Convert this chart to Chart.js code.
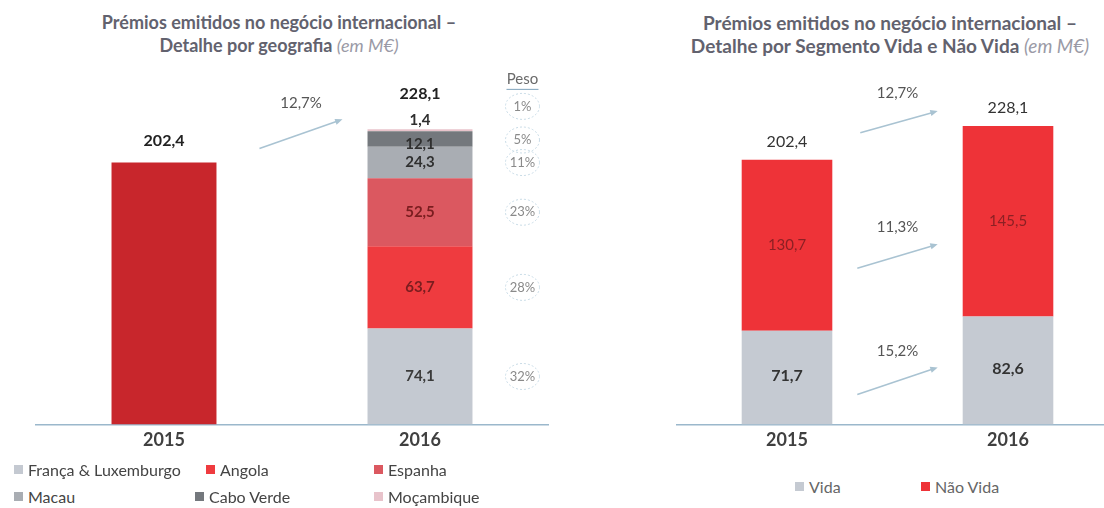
<!DOCTYPE html>
<html>
<head>
<meta charset="utf-8">
<script src="https://cdn.jsdelivr.net/npm/chart.js@4"></script>
<style>
  body { margin: 0; width: 1104px; height: 508px; overflow: hidden; background: #fff;
         font-family: Lato, "DejaVu Sans", sans-serif; position: relative; }
  .title { position: absolute; text-align: center; color: #62626e; font-weight: bold;
           font-size: 18px; line-height: 23px; white-space: nowrap; }
  .title i { font-weight: normal; color: #9a9aa6; }
  #tLeft { left: 79px; width: 400px; top: 11px; }
  #tRight { left: 660px; width: 460px; top: 11px; font-size: 19px; }
  .cv { position: absolute; top: 0; }
  #wrapLeft { left: 0; width: 560px; height: 466px; }
  #wrapRight { left: 660px; width: 470px; height: 466px; }
  .legend { position: absolute; font-size: 16px; color: #444; }
  .legend .item { position: absolute; white-space: nowrap; display: flex; align-items: center; }
  .legend .sq { width: 9px; height: 9px; margin-right: 5px; display: inline-block; }
</style>
</head>
<body>
<div class="title" id="tLeft">Prémios emitidos no negócio internacional –<br>Detalhe por geografia <i>(em M€)</i></div>
<div class="title" id="tRight">Prémios emitidos no negócio internacional –<br>Detalhe por Segmento Vida e Não Vida <i>(em M€)</i></div>
<div class="cv" id="wrapLeft"><canvas id="chartLeft"></canvas></div>
<div class="cv" id="wrapRight"><canvas id="chartRight"></canvas></div>
<div class="legend" id="legLeft"></div>
<div class="legend" id="legRight"></div>
<script>
// ---- data ----
const years = ["2015", "2016"];
const totals = [202.4, 228.1];
const totalGrowth = "12,7%";

const geoNames = ["França & Luxemburgo", "Angola", "Espanha", "Macau", "Cabo Verde", "Moçambique"];
const geo2016 = [74.1, 63.7, 52.5, 24.3, 12.1, 1.4];
const geoPeso = ["32%", "28%", "23%", "11%", "5%", "1%"];

const segNames = ["Vida", "Não Vida"];
const vida = [71.7, 82.6];
const naoVida = [130.7, 145.5];
const segGrowth = ["15,2%", "11,3%"];

// ---- styles ----
const total2015Color = "#c8262c";
const geoColors = ["#c4c9d1", "#ef3b3f", "#db5860", "#a9adb3", "#74787d", "#e8c3cb"];
const geoLabelColors = ["#3a3a3a", "#7a1d1f", "#7a1d1f", "#2f2f2f", "#2f2f2f", "#2f2f2f"];
const segColors = ["#c5cad2", "#ee3338"];
const axisColor = "#9bb8cc";
const arrowColor = "#a9c3d2";
const FONT = "Lato, 'DejaVu Sans', sans-serif";

const fmt = (v) => v.toFixed(1).replace(".", ",");

function drawArrow(ctx, x1, y1, x2, y2) {
  const a = Math.atan2(y2 - y1, x2 - x1);
  ctx.save();
  ctx.strokeStyle = arrowColor;
  ctx.fillStyle = arrowColor;
  ctx.lineWidth = 1.6;
  ctx.beginPath();
  ctx.moveTo(x1, y1);
  ctx.lineTo(x2 - 5 * Math.cos(a), y2 - 5 * Math.sin(a));
  ctx.stroke();
  ctx.beginPath();
  ctx.moveTo(x2, y2);
  ctx.lineTo(x2 - 8 * Math.cos(a - 0.4), y2 - 8 * Math.sin(a - 0.4));
  ctx.lineTo(x2 - 8 * Math.cos(a + 0.4), y2 - 8 * Math.sin(a + 0.4));
  ctx.closePath();
  ctx.fill();
  ctx.restore();
}

function text(ctx, s, x, y, font, color) {
  ctx.save();
  ctx.font = font;
  ctx.fillStyle = color;
  ctx.textAlign = "center";
  ctx.textBaseline = "middle";
  ctx.fillText(s, x, y);
  ctx.restore();
}

//------------------------------------------------------
// left chart: by geography
//------------------------------------------------------
const leftLabels = {
  id: "leftLabels",
  afterDatasetsDraw(chart) {
    const ctx = chart.ctx;
    const bar15 = chart.getDatasetMeta(0).data[0];
    const metas = geoNames.map((_, i) => chart.getDatasetMeta(i + 1).data[1]);
    const top16 = metas[metas.length - 1];

    text(ctx, fmt(totals[0]), bar15.x, bar15.y - 22, "bold 16px " + FONT, "#222");
    text(ctx, fmt(totals[1]), top16.x, top16.y - 36, "bold 16px " + FONT, "#222");

    // growth arrow
    const x1 = bar15.x + bar15.width / 2 + 43;
    const x2 = top16.x - top16.width / 2 - 25;
    drawArrow(ctx, x1, bar15.y - 14, x2, top16.y - 10);
    text(ctx, totalGrowth, (x1 + x2) / 2, top16.y - 26, "15px " + FONT, "#555");

    // segment values + Peso column
    const pesoX = top16.x + top16.width / 2 + 50;
    ctx.save();
    ctx.font = "15px " + FONT;
    ctx.fillStyle = "#6a6a6a";
    ctx.textAlign = "center";
    ctx.textBaseline = "middle";
    ctx.fillText("Peso", pesoX, top16.y - 50);
    ctx.strokeStyle = "#7fa3bb";
    ctx.lineWidth = 1;
    ctx.beginPath();
    ctx.moveTo(pesoX - 16, top16.y - 40);
    ctx.lineTo(pesoX + 16, top16.y - 40);
    ctx.stroke();
    ctx.restore();

    metas.forEach((el, i) => {
      let ly = (el.y + el.base) / 2;
      let py = ly;
      if (i === metas.length - 1) { ly = el.y - 9; py = el.y - 23; }
      if (i === metas.length - 2) { ly += 5; py += 1; }
      text(ctx, fmt(geo2016[i]), el.x, ly, "bold 15px " + FONT, geoLabelColors[i]);

      ctx.save();
      ctx.setLineDash([2, 2]);
      ctx.strokeStyle = "#c8dbe6";
      ctx.lineWidth = 1;
      ctx.beginPath();
      ctx.ellipse(pesoX, py, 17, 13, 0, 0, Math.PI * 2);
      ctx.stroke();
      ctx.restore();
      text(ctx, geoPeso[i], pesoX, py, "13px " + FONT, "#8a8a8a");
    });
  },
};

new Chart(document.getElementById("chartLeft"), {
  type: "bar",
  data: {
    labels: years,
    datasets: [
      { label: "Total", data: [totals[0], null], backgroundColor: total2015Color },
      ...geoNames.map((n, i) => ({
        label: n,
        data: [null, geo2016[i]],
        backgroundColor: geoColors[i],
      })),
    ],
  },
  options: {
    responsive: true,
    maintainAspectRatio: false,
    animation: false,
    layout: { padding: { left: 36, right: 12, top: 70, bottom: 10 } },
    datasets: { bar: { categoryPercentage: 1, barPercentage: 0.41 } },
    plugins: { legend: { display: false }, tooltip: { enabled: false } },
    scales: {
      x: {
        stacked: true,
        grid: { display: false, drawTicks: false },
        border: { display: true, color: axisColor, width: 1.5 },
        ticks: { padding: 5, color: "#404040", font: { family: FONT, size: 18, weight: "bold" } },
      },
      y: { stacked: true, display: false, min: 0, max: 274 },
    },
  },
  plugins: [leftLabels],
});

//------------------------------------------------------
// right chart: Vida / Não Vida
//------------------------------------------------------
const rightLabels = {
  id: "rightLabels",
  afterDatasetsDraw(chart) {
    const ctx = chart.ctx;
    const v = chart.getDatasetMeta(0).data;
    const nv = chart.getDatasetMeta(1).data;

    years.forEach((_, i) => {
      text(ctx, fmt(totals[i]), nv[i].x, nv[i].y - 18, "16px " + FONT, "#333");
      text(ctx, fmt(vida[i]), v[i].x, (v[i].y + v[i].base) / 2 - 2, "bold 16px " + FONT, "#333");
      text(ctx, fmt(naoVida[i]), nv[i].x, (nv[i].y + nv[i].base) / 2, "15px " + FONT, "#8c2024");
    });

    const x1 = v[0].x + v[0].width / 2 + 25;
    const x2 = v[1].x - v[1].width / 2 - 25;
    const xm = (x1 + x2) / 2;

    // total growth
    drawArrow(ctx, x1 + 3, nv[0].y - 27, x2, nv[1].y - 15);
    text(ctx, totalGrowth, xm, nv[1].y - 33, "15px " + FONT, "#555");
    // Não Vida growth
    const nvMid0 = (nv[0].y + nv[0].base) / 2;
    const nvMid1 = (nv[1].y + nv[1].base) / 2;
    drawArrow(ctx, x1, nvMid0 + 23, x2, nvMid1 + 23);
    text(ctx, segGrowth[1], xm, nvMid1 + 6, "15px " + FONT, "#555");
    // Vida growth
    const vMid0 = (v[0].y + v[0].base) / 2;
    const vMid1 = (v[1].y + v[1].base) / 2;
    drawArrow(ctx, x1, vMid0 + 17, x2, vMid1 - 3);
    text(ctx, segGrowth[0], xm, vMid1 - 19, "15px " + FONT, "#555");
  },
};

new Chart(document.getElementById("chartRight"), {
  type: "bar",
  data: {
    labels: years,
    datasets: [
      { label: segNames[0], data: vida, backgroundColor: segColors[0] },
      { label: segNames[1], data: naoVida, backgroundColor: segColors[1] },
    ],
  },
  options: {
    responsive: true,
    maintainAspectRatio: false,
    animation: false,
    layout: { padding: { left: 16.5, right: 11.5, top: 70, bottom: 10 } },
    datasets: { bar: { categoryPercentage: 1, barPercentage: 0.41 } },
    plugins: { legend: { display: false }, tooltip: { enabled: false } },
    scales: {
      x: {
        stacked: true,
        grid: { display: false, drawTicks: false },
        border: { display: true, color: axisColor, width: 1.5 },
        ticks: { padding: 5, color: "#404040", font: { family: FONT, size: 18, weight: "bold" } },
      },
      y: { stacked: true, display: false, min: 0, max: 271 },
    },
  },
  plugins: [rightLabels],
});

//------------------------------------------------------
// HTML legends
//------------------------------------------------------
const legLeftPos = [[14, 460], [206, 460], [374, 460], [14, 487], [195, 487], [374, 487]];
const legLeft = document.getElementById("legLeft");
geoNames.forEach((n, i) => {
  const it = document.createElement("div");
  it.className = "item";
  it.style.left = legLeftPos[i][0] + "px";
  it.style.top = legLeftPos[i][1] + "px";
  it.innerHTML = `<span class="sq" style="background:${geoColors[i]}"></span>${n}`;
  legLeft.appendChild(it);
});
const legRightPos = [[795, 477], [921, 477]];
const legRight = document.getElementById("legRight");
segNames.forEach((n, i) => {
  const it = document.createElement("div");
  it.className = "item";
  it.style.left = legRightPos[i][0] + "px";
  it.style.top = legRightPos[i][1] + "px";
  it.style.color = "#666";
  it.innerHTML = `<span class="sq" style="background:${segColors[i]}"></span>${n}`;
  legRight.appendChild(it);
});
</script>
</body>
</html>
